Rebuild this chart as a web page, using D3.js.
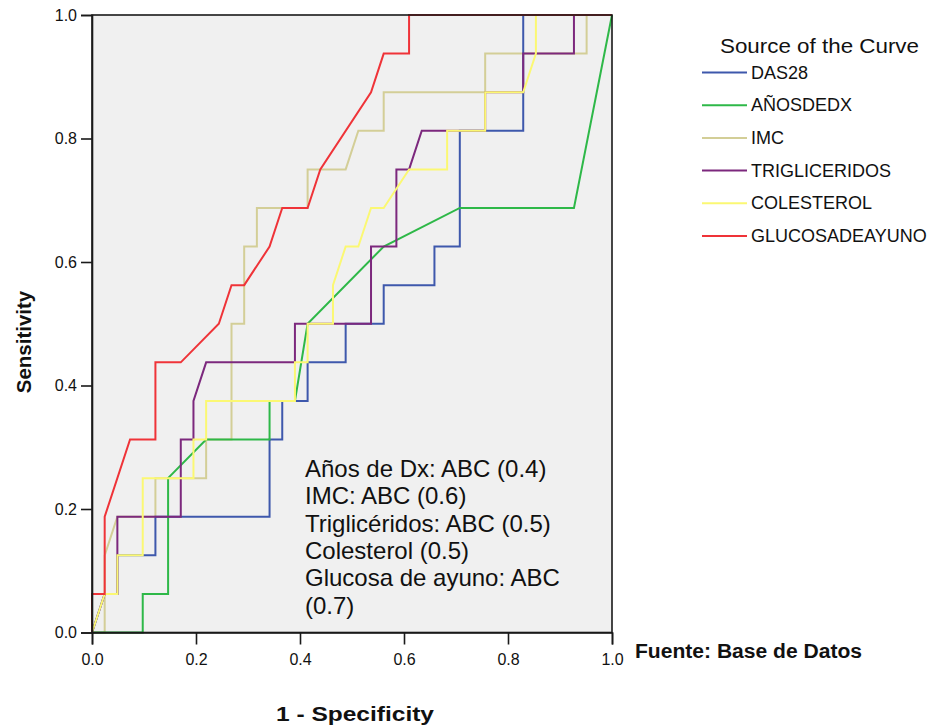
<!DOCTYPE html>
<html>
<head>
<meta charset="utf-8">
<script src="https://cdn.jsdelivr.net/npm/d3@7"></script>
<style>
  body { margin: 0; background: #ffffff; }
  svg { display: block; font-family: "Liberation Sans", Arial, sans-serif; }
</style>
</head>
<body>
<svg id="chart" width="941" height="725"></svg>
<script>
// ROC curves: 41 negatives (x steps of 1/41) and 16 positives (y steps of 1/16)
const nNeg = 41, nPos = 16;
const seriesNames = ["DAS28", "AÑOSDEDX", "IMC", "TRIGLICERIDOS", "COLESTEROL", "GLUCOSADEAYUNO"];
const seriesColors = ["#3e58ac", "#2eb848", "#d3ce97", "#7c287d", "#fbf873", "#ef3338"];
// points as [falsePositives, truePositives]
const das28 = [[0,0],[1,1],[2,1],[2,2],[5,2],[5,3],[14,3],[14,5],[15,5],[15,6],[17,6],[17,7],[20,7],[20,8],[23,8],[23,9],[27,9],[27,10],[29,10],[29,13],[34,13],[34,16],[41,16]];
const anosdedx = [[0,0],[4,0],[4,1],[6,1],[6,4],[9,5],[14,5],[14,6],[16,6],[17,8],[23,10],[29,11],[38,11],[41,16]];
const imc = [[0,0],[1,0],[1,2],[2,3],[5,3],[5,4],[9,4],[9,5],[11,5],[11,8],[12,8],[12,10],[13,10],[13,11],[17,11],[17,12],[20,12],[21,13],[23,13],[23,14],[31,14],[31,15],[39,15],[39,16],[41,16]];
const trigliceridos = [[0,0],[1,1],[2,1],[2,3],[7,3],[7,5],[8,5],[8,6],[9,7],[16,7],[16,8],[22,8],[22,10],[24,10],[24,12],[25,12],[26,13],[31,13],[31,14],[34,14],[34,15],[38,15],[38,16],[41,16]];
const colesterol = [[0,0],[1,1],[2,1],[2,2],[4,2],[4,4],[8,4],[8,5],[9,5],[9,6],[16,6],[16,7],[17,7],[17,8],[19,8],[19,9],[20,10],[21,10],[22,11],[23,11],[25,12],[28,12],[28,13],[31,13],[31,14],[34,14],[35,15],[35,16],[41,16]];
const glucosa = [[0,0],[0,1],[1,1],[1,3],[3,5],[5,5],[5,7],[7,7],[10,8],[11,9],[12,9],[14,10],[15,11],[17,11],[18,12],[22,14],[23,15],[25,15],[25,16],[41,16]];
const seriesData = [das28, anosdedx, imc, trigliceridos, colesterol, glucosa];
const tickValues = [0, 0.2, 0.4, 0.6, 0.8, 1.0];
const annotationLines = ["Años de Dx: ABC (0.4)", "IMC: ABC (0.6)", "Triglicéridos: ABC (0.5)", "Colesterol (0.5)", "Glucosa de ayuno: ABC", "(0.7)"];

const svg = d3.select("#chart");
const pLeft = 92, pRight = 612, pTop = 15, pBottom = 632.5;
const x = d3.scaleLinear().domain([0, 1]).range([pLeft, pRight]);
const y = d3.scaleLinear().domain([0, 1]).range([pBottom, pTop]);

// plot background
svg.append("rect").attr("x", pLeft).attr("y", pTop).attr("width", pRight - pLeft).attr("height", pBottom - pTop)
  .attr("fill", "#f0f0f0");

// curves
const line = d3.line().x(d => x(d[0] / nNeg)).y(d => y(d[1] / nPos));
const drawOrder = [2, 0, 1, 3, 4, 5]; // IMC drawn first, red on top
drawOrder.forEach(i => {
  svg.append("path").datum(seriesData[i]).attr("d", line)
    .attr("fill", "none").attr("stroke", seriesColors[i]).attr("stroke-width", 2)
    .attr("stroke-linejoin", "miter");
});

// frame
svg.append("rect").attr("x", pLeft).attr("y", pTop).attr("width", pRight - pLeft).attr("height", pBottom - pTop)
  .attr("fill", "none").attr("stroke", "#1a1a1a").attr("stroke-width", 1.6);

// axes
const fmt = d3.format(".1f");
const yAxis = svg.append("g").attr("transform", `translate(${pLeft},0)`)
  .call(d3.axisLeft(y).tickValues(tickValues).tickFormat(fmt).tickSize(11).tickPadding(4));
const xAxis = svg.append("g").attr("transform", `translate(0,${pBottom})`)
  .call(d3.axisBottom(x).tickValues(tickValues).tickFormat(fmt).tickSize(12).tickPadding(9));
[yAxis, xAxis].forEach(g => {
  g.select(".domain").attr("stroke", "#1a1a1a").attr("stroke-width", 1.6);
  g.selectAll(".tick line").attr("stroke", "#1a1a1a").attr("stroke-width", 1.6);
  g.selectAll(".tick text").attr("fill", "#111").style("font-size", "16px")
    .style("font-family", "'Liberation Sans', Arial, sans-serif");
});

// axis titles
svg.append("text").attr("x", 276).attr("y", 721)
  .attr("textLength", 158).attr("lengthAdjust", "spacingAndGlyphs")
  .style("font-size", "21px").style("font-weight", "bold").attr("fill", "#111")
  .text("1 - Specificity");
svg.append("text").attr("transform", "translate(31,342) rotate(-90)").attr("text-anchor", "middle")
  .style("font-size", "20.5px").style("font-weight", "bold").attr("fill", "#111")
  .text("Sensitivity");
svg.append("text").attr("x", 635).attr("y", 658)
  .attr("textLength", 227).attr("lengthAdjust", "spacingAndGlyphs")
  .style("font-size", "19.5px").style("font-weight", "bold").attr("fill", "#111")
  .text("Fuente: Base de Datos");

// annotation
annotationLines.forEach((t, i) => {
  svg.append("text").attr("x", 305).attr("y", 477 + i * 27.3)
    .style("font-size", "24px").attr("fill", "#111").text(t);
});

// legend
svg.append("text").attr("x", 720).attr("y", 53)
  .attr("textLength", 199).attr("lengthAdjust", "spacingAndGlyphs")
  .style("font-size", "21px").attr("fill", "#111").text("Source of the Curve");
seriesNames.forEach((name, i) => {
  const ly = 72.5 + i * 32.7;
  svg.append("line").attr("x1", 702).attr("x2", 747).attr("y1", ly).attr("y2", ly)
    .attr("stroke", seriesColors[i]).attr("stroke-width", 2);
  svg.append("text").attr("x", 751).attr("y", ly + 6)
    .style("font-size", "18px").attr("fill", "#111").text(name);
});
</script>
</body>
</html>
